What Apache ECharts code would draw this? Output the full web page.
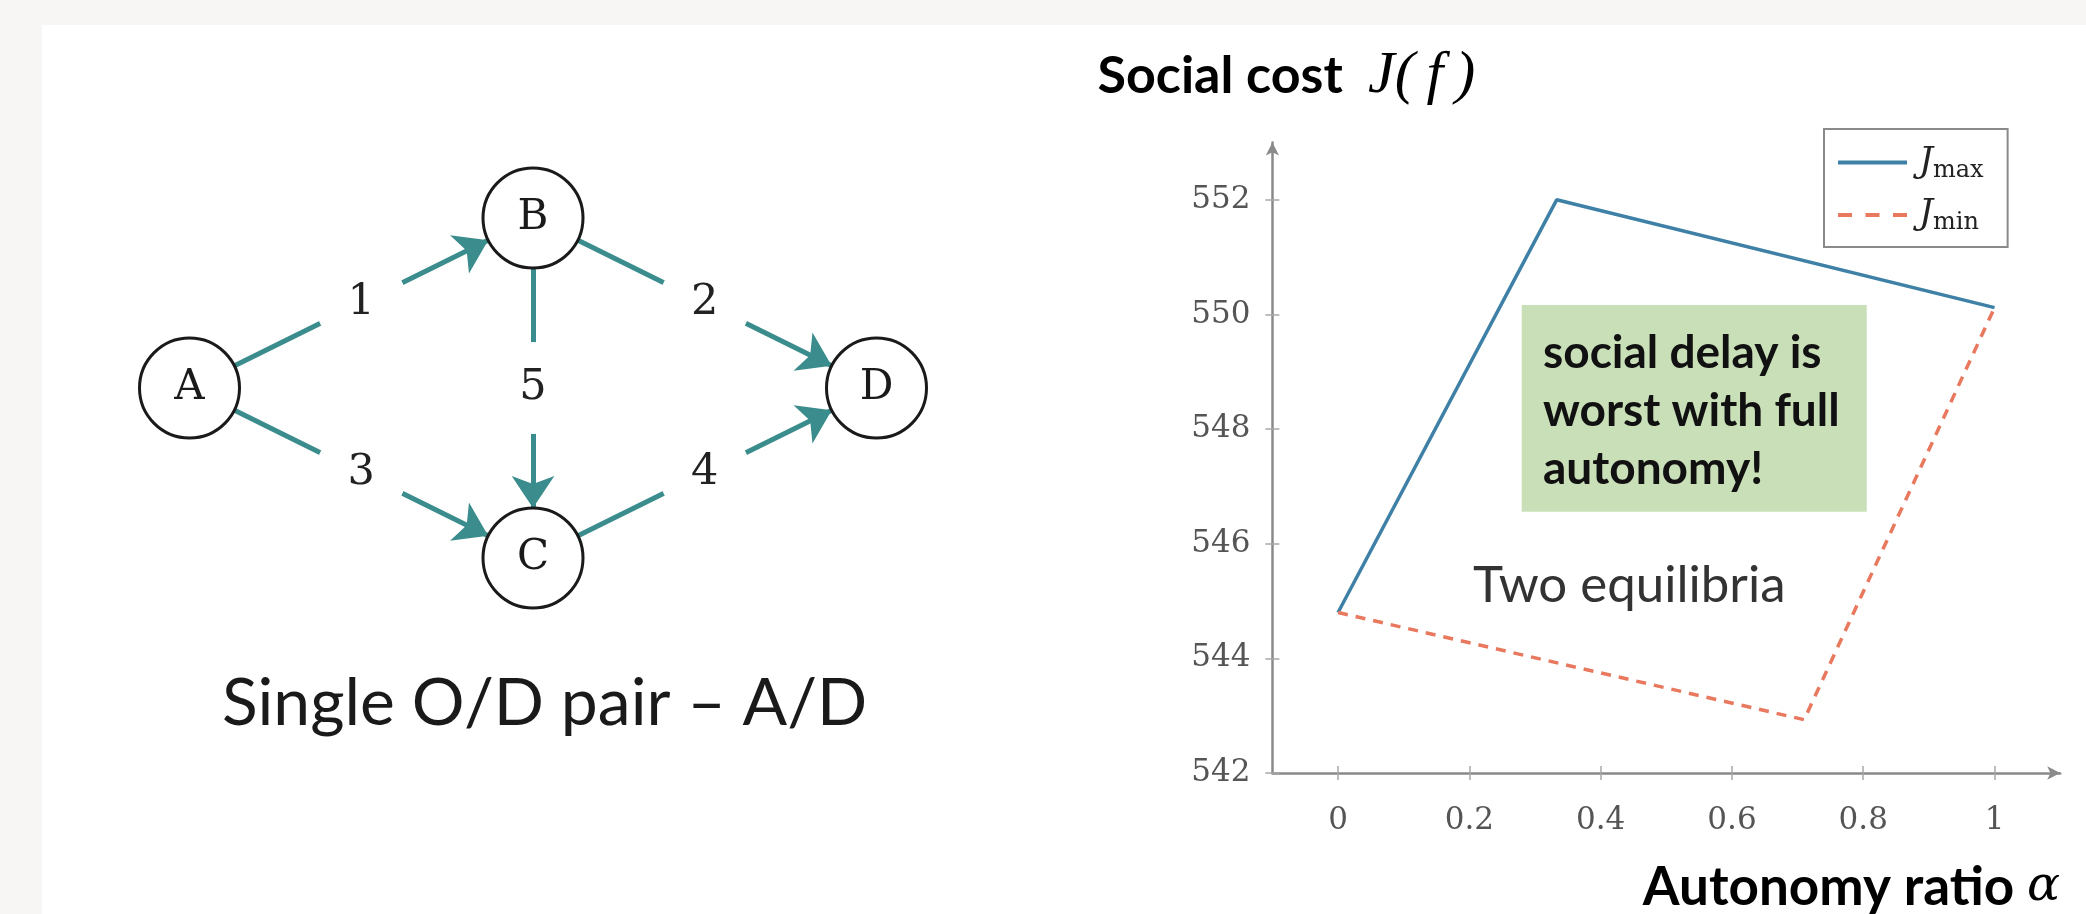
<!DOCTYPE html>
<html><head><meta charset="utf-8">
<script src="https://cdn.jsdelivr.net/npm/echarts@6/dist/echarts.min.js"></script>
<style>html,body{margin:0;padding:0;background:#f7f6f4;overflow:hidden}#c{width:2086px;height:914px}</style>
</head><body><div id="c"></div>
<script>
// ---------- data ----------
const alphaTicks = [0, 0.2, 0.4, 0.6, 0.8, 1];
const costTicks = [542, 544, 546, 548, 550, 552];
const alphaMax = [0, 0.333, 1];
const costMax = [544.8, 552.0, 550.12];
const alphaMin = [0, 0.71, 1];
const costMin = [544.8, 542.93, 550.12];

// network diagram (abstract layout coordinates)
const nodeNames = ['A', 'B', 'C', 'D'];
const nodeX = [0, 1, 1, 2];
const nodeY = [0, 1, -1, 0];
const linkSource = ['A', 'B', 'A', 'C', 'B'];
const linkTarget = ['B', 'D', 'C', 'D', 'C'];
const linkLabel = ['1', '2', '3', '4', '5'];

// ---------- build ----------
const zip = (a, b) => a.map((v, i) => [v, b[i]]);
const nodeIndex = n => nodeNames.indexOf(n);
const nodes = nodeNames.map((n, i) => ({ name: n, value: [nodeX[i], nodeY[i]] }));
const links = linkSource.map((s, i) => ({ source: s, target: linkTarget[i] }));
const mids = linkSource.map((s, i) => {
  const a = nodeIndex(s), b = nodeIndex(linkTarget[i]);
  return { name: linkLabel[i], value: [(nodeX[a] + nodeX[b]) / 2, (nodeY[a] + nodeY[b]) / 2] };
});

const TEAL = '#3b8c8c';
const BLUE = '#3e80a6';
const RED = '#e8785e';
const serif = 'DejaVu Serif';
const sans = 'Lato';
const tickStyle = { color: '#a8a8a8', width: 1.5 };

const chart = echarts.init(document.getElementById('c'), null, { renderer: 'canvas' });
chart.setOption({
  animation: false,
  backgroundColor: '#f7f6f4',
  grid: [
    { left: 1272.4, right: 25.8, top: 142.5, bottom: 131 },
    { left: 189.5, top: 218, width: 687, height: 340 }
  ],
  xAxis: [
    {
      gridIndex: 0, type: 'value', min: -0.1, max: 1.1,
      name: '{a|Autonomy ratio }{b|α}', nameLocation: 'end', nameGap: 0,
      nameTextStyle: {
        align: 'right', verticalAlign: 'top', padding: [88, 0, 0, 0],
        rich: {
          a: { fontFamily: sans, fontWeight: 'bold', fontSize: 53, color: '#000' },
          b: { fontFamily: serif, fontStyle: 'italic', fontSize: 49, color: '#000' }
        }
      },
      axisLine: { show: true, onZero: false, lineStyle: { color: '#8a8a8a', width: 2.5 }, symbol: ['none', 'arrow'], symbolSize: [10, 13] },
      axisTick: { show: true, customValues: alphaTicks, length: 7, lineStyle: tickStyle },
      axisLabel: { customValues: alphaTicks, fontFamily: serif, fontSize: 31, color: '#555', margin: 32 },
      splitLine: { show: false }
    },
    {
      gridIndex: 0, type: 'value', min: -0.1, max: 1.1, position: 'bottom',
      axisLine: { show: false, onZero: false },
      axisTick: { show: true, inside: true, customValues: alphaTicks, length: 7, lineStyle: tickStyle },
      axisLabel: { show: false }, splitLine: { show: false }
    },
    { gridIndex: 1, type: 'value', min: 0, max: 2, show: false }
  ],
  yAxis: [
    {
      gridIndex: 0, type: 'value', min: 542, max: 553,
      name: '{a|Social cost  }{b|J(\u2009f\u2009)}', nameLocation: 'end', nameGap: 36,
      nameTextStyle: {
        align: 'center', verticalAlign: 'bottom', padding: [0, 0, 0, 28],
        rich: {
          a: { fontFamily: sans, fontWeight: 'bold', fontSize: 52, color: '#000' },
          b: { fontFamily: 'Liberation Serif', fontStyle: 'italic', fontSize: 60, color: '#000' }
        }
      },
      axisLine: { show: true, onZero: false, lineStyle: { color: '#8a8a8a', width: 2.5 }, symbol: ['none', 'arrow'], symbolSize: [10, 13] },
      axisTick: { show: true, customValues: costTicks, length: 7, lineStyle: tickStyle },
      axisLabel: { customValues: costTicks, fontFamily: serif, fontSize: 31, color: '#555', margin: 22 },
      splitLine: { show: false }
    },
    {
      gridIndex: 0, type: 'value', min: 542, max: 553, position: 'left',
      axisLine: { show: false, onZero: false },
      axisTick: { show: true, inside: true, customValues: costTicks, length: 7, lineStyle: tickStyle },
      axisLabel: { show: false }, splitLine: { show: false }
    },
    { gridIndex: 1, type: 'value', min: -1, max: 1, show: false }
  ],
  legend: {
    orient: 'vertical', left: 1824, top: 129,
    padding: [16, 24, 12, 14], itemWidth: 69, itemHeight: 4, itemGap: 15,
    borderColor: '#8a8a8a', borderWidth: 2, backgroundColor: '#fff',
    selectedMode: false,
    data: [
      { name: 'Jmax', icon: 'path://M0,0h69v4h-69z' },
      { name: 'Jmin', icon: 'path://M0,0h14v4h-14z M27.5,0h14v4h-14z M55,0h14v4h-14z' }
    ],
    formatter: n => n === 'Jmax' ? '{j|J}{s|max}' : '{j|J}{s|min}',
    textStyle: {
      rich: {
        j: { fontFamily: serif, fontStyle: 'italic', fontSize: 35, color: '#222', lineHeight: 34, padding: [0, 0, 0, 7] },
        s: { fontFamily: serif, fontSize: 24, color: '#222', padding: [16, 0, 0, 0] }
      }
    }
  },
  graphic: [
    { type: 'rect', z: -10, shape: { x: 42, y: 25, width: 2044, height: 889 }, style: { fill: '#ffffff' } },
    { type: 'rect', shape: { x: 1521.7, y: 305, width: 345, height: 206.7 }, style: { fill: '#c8dfb8' } },
    { type: 'text', x: 1543, y: 411, style: { text: 'social delay is\nworst with full\nautonomy!', fontFamily: sans, fontWeight: 'bold', fontSize: 46, lineHeight: 58, fill: '#111', verticalAlign: 'middle' } },
    { type: 'text', x: 1473, y: 586, style: { text: 'Two equilibria', fontFamily: sans, fontSize: 51, fill: '#333', verticalAlign: 'middle' } },
    { type: 'text', x: 222, y: 704, style: { text: 'Single O/D pair \u2013 A/D', fontFamily: sans, fontSize: 66, fill: '#1a1a1a', verticalAlign: 'middle' } }
  ],
  series: [
    {
      type: 'line', name: 'Jmax', xAxisIndex: 0, yAxisIndex: 0,
      data: zip(alphaMax, costMax), symbol: 'none',
      lineStyle: { color: BLUE, width: 3.5 }, itemStyle: { color: BLUE }, z: 3
    },
    {
      type: 'line', name: 'Jmin', xAxisIndex: 0, yAxisIndex: 0,
      data: zip(alphaMin, costMin), symbol: 'none',
      lineStyle: { color: RED, width: 3.5, type: [10, 8] }, itemStyle: { color: RED }, z: 3
    },
    {
      type: 'graph', coordinateSystem: 'cartesian2d', xAxisIndex: 2, yAxisIndex: 2,
      symbol: 'circle', symbolSize: 100, silent: true,
      itemStyle: { color: '#fff', borderColor: '#1a1a1a', borderWidth: 3 },
      label: { show: true, position: 'inside', fontFamily: serif, fontSize: 42, color: '#1a1a1a', formatter: p => p.name },
      edgeSymbol: ['none', 'arrow'], edgeSymbolSize: 32,
      lineStyle: { color: TEAL, width: 5, opacity: 1, curveness: 0 },
      data: nodes, links: links, z: 2
    },
    {
      type: 'scatter', xAxisIndex: 2, yAxisIndex: 2, silent: true,
      symbol: 'circle', symbolSize: 92, itemStyle: { color: '#fff', opacity: 1 },
      label: { show: true, position: 'inside', fontFamily: serif, fontSize: 43, color: '#222', formatter: p => p.name },
      data: mids, z: 3
    }
  ]
});
</script></body></html>
